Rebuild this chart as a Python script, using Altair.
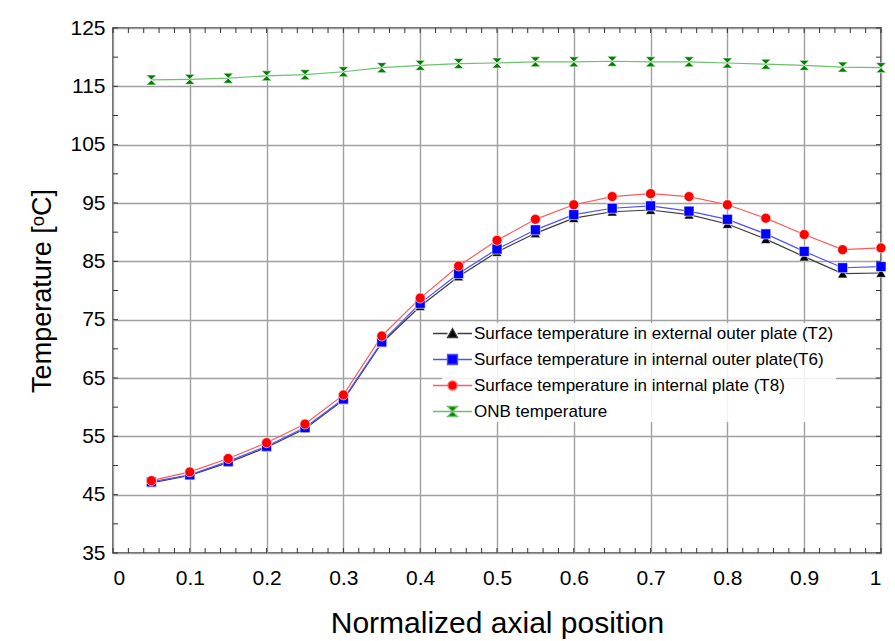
import altair as alt
import pandas as pd

# ---------------- data ----------------
positions = [0.05, 0.10, 0.15, 0.20, 0.25, 0.30, 0.35, 0.40, 0.45, 0.50,
             0.55, 0.60, 0.65, 0.70, 0.75, 0.80, 0.85, 0.90, 0.95, 1.00]
t2 = [47.0, 48.3, 50.5, 53.1, 56.3, 61.2, 71.0, 77.3, 82.4, 86.6,
      89.8, 92.4, 93.5, 93.8, 93.0, 91.4, 88.8, 85.8, 82.9, 83.0]
t6 = [47.2, 48.4, 50.7, 53.3, 56.5, 61.4, 71.2, 77.8, 82.9, 87.1,
      90.4, 93.0, 94.1, 94.5, 93.6, 92.2, 89.7, 86.7, 83.9, 84.1]
t8 = [47.4, 48.9, 51.2, 53.9, 57.1, 62.1, 72.2, 78.7, 84.2, 88.6,
      92.2, 94.7, 96.1, 96.6, 96.1, 94.7, 92.4, 89.6, 87.0, 87.3]
onb = [116.1, 116.2, 116.4, 116.8, 117.0, 117.5, 118.2, 118.6, 118.9, 119.0,
       119.2, 119.2, 119.3, 119.2, 119.2, 119.0, 118.8, 118.6, 118.3, 118.2]

series_names = [
    "Surface temperature in external outer plate (T2)",
    "Surface temperature in internal outer plate(T6)",
    "Surface temperature in internal plate (T8)",
    "ONB temperature",
]
marker_colors = ["#000000", "#0000ff", "#ff0000", "#007f00"]
line_colors = ["#3c3c3c", "#5050ff", "#ff5a5a", "#6cbf6c"]

x_labels = [0, 0.1, 0.2, 0.3, 0.4, 0.5, 0.6, 0.7, 0.8, 0.9, 1]
y_labels = [35, 45, 55, 65, 75, 85, 95, 105, 115, 125]
x_minor = [round(0.02 * i, 2) for i in range(51)]
y_minor = [35, 40, 45, 50, 55, 60, 65, 70, 75, 80, 85, 90, 95, 100, 105, 110, 115, 120, 125]

# ---------------- tables ----------------
rows = []
for name, vals in zip(series_names, [t2, t6, t8, onb]):
    for p, v in zip(positions, vals):
        rows.append({"pos": p, "temp": v, "series": name})
df = pd.DataFrame(rows)
xt = pd.DataFrame({"pos": x_minor})
yt = pd.DataFrame({"temp": y_minor})

W, H = 768, 525
xscale = alt.Scale(domain=[0, 1], nice=False, zero=False)
yscale = alt.Scale(domain=[35, 125], nice=False, zero=False)

hourglass = "M-1,-1H1L-1,1H1Z"
plot_shapes = ["triangle-up", "square", "circle", hourglass]
legend_shapes = [
    "M-3.9,0H-1M1,0H3.9M0,-1L1,0.8L-1,0.8Z",
    "M-3.9,0H-1M1,0H3.9M-1,-1H1V1H-1Z",
    "M-3.9,0H-0.9M0.9,0H3.9M-0.9,0A0.9,0.9 0 1,1 0.9,0A0.9,0.9 0 1,1 -0.9,0Z",
    "M-3.9,0H3.9M-1,-1H1L-1,1H1Z",
]

FONT = "Liberation Sans, Arial, sans-serif"

x_axis = alt.Axis(
    values=x_labels, format="~g", title="Normalized axial position",
    grid=True, ticks=False, domain=False,
    labelFont=FONT, labelFontSize=21, labelColor="#000",
    labelPadding=14,
    titleFont=FONT, titleFontSize=30, titleFontWeight="normal",
    titleColor="#000", titleY=70, titleBaseline="middle",
)
y_axis = alt.Axis(
    values=y_labels, title="Temperature [ᵒC]",
    grid=True, ticks=False, domain=False,
    labelFont=FONT, labelFontSize=21, labelColor="#000",
    labelPadding=8,
    titleFont=FONT, titleFontSize=27, titleFontWeight="normal",
    titleColor="#000", titleX=-71, titleY=H / 2, titleAngle=-90,
    titleBaseline="middle", titleAlign="center",
)

X = alt.X("pos:Q", scale=xscale, axis=x_axis)
Y = alt.Y("temp:Q", scale=yscale, axis=y_axis)

base = alt.Chart(df)

lines = base.mark_line(strokeWidth=1.2).encode(
    x=X, y=Y,
    color=alt.Color("series:N",
                    scale=alt.Scale(domain=series_names, range=line_colors),
                    legend=None),
)

points = base.mark_point(filled=True, size=100, opacity=1, strokeWidth=0.6).encode(
    x=X, y=Y,
    fill=alt.Fill("series:N",
                  scale=alt.Scale(domain=series_names, range=marker_colors),
                  legend=None),
    shape=alt.Shape("series:N",
                    scale=alt.Scale(domain=series_names, range=plot_shapes),
                    legend=None),
    stroke=alt.value("white"),
)

legend_layer = base.mark_point(filled=True, size=100, opacity=1).encode(
    x=X, y=Y,
    fill=alt.Fill("series:N",
                  scale=alt.Scale(domain=series_names, range=marker_colors),
                  legend=alt.Legend(title=None)),
    stroke=alt.Stroke("series:N",
                      scale=alt.Scale(domain=series_names, range=line_colors),
                      legend=alt.Legend(title=None)),
    shape=alt.Shape("series:N",
                    scale=alt.Scale(domain=series_names, range=legend_shapes),
                    legend=alt.Legend(title=None)),
).transform_filter("datum.temp < 0")

tick_style = dict(color="#333333", strokeWidth=1)
bottom_ticks = alt.Chart(xt).mark_rule(**tick_style).encode(
    x=X, y=alt.value(H), y2=alt.value(H - 5),
)
top_ticks = alt.Chart(xt).mark_rule(**tick_style).encode(
    x=X, y=alt.value(0), y2=alt.value(5),
)
left_ticks = alt.Chart(yt).mark_rule(**tick_style).encode(
    y=Y, x=alt.value(0), x2=alt.value(5),
)
right_ticks = alt.Chart(yt).mark_rule(**tick_style).encode(
    y=Y, x=alt.value(W), x2=alt.value(W - 5),
)

chart = alt.layer(
    lines, points, legend_layer, bottom_ticks, top_ticks, left_ticks, right_ticks
).resolve_scale(
    fill="independent", shape="independent", stroke="independent", color="independent"
).properties(
    width=W, height=H,
    padding={"left": 113, "top": 28, "right": 14, "bottom": 88},
    autosize=alt.AutoSizeParams(type="none"),
    background="white",
).configure_view(
    stroke="#333333", strokeWidth=1.5,
).configure_axis(
    gridColor="#a0a0a0", gridWidth=1.4, gridOpacity=1,
).configure_legend(
    orient="none", legendX=329, legendY=295,
    labelFont=FONT, labelFontSize=17, labelColor="#000",
    labelLimit=600,
    symbolSize=100, symbolStrokeWidth=1.3, labelOffset=13,
    rowPadding=8, padding=2, fillColor="rgba(255,255,255,0.85)",
)

chart.save("out.html", embed_options={"renderer": "svg", "actions": False})
